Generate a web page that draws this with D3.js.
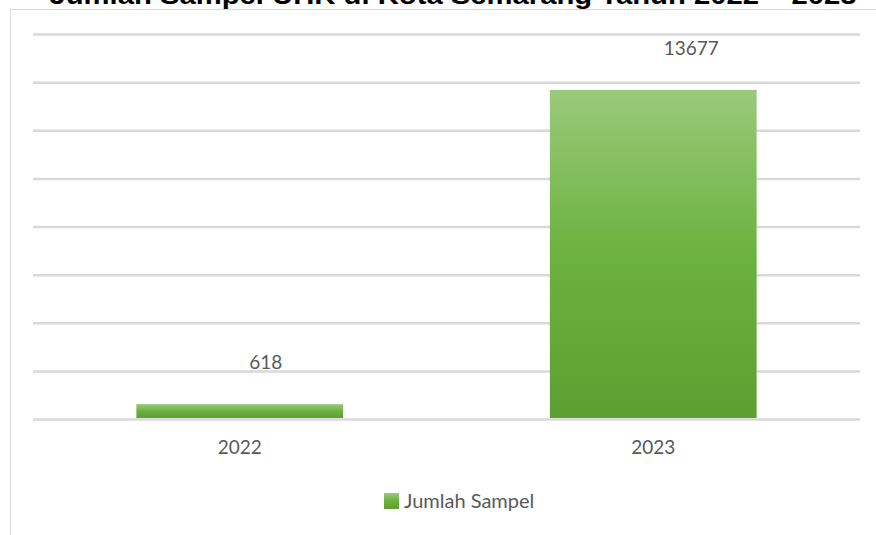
<!DOCTYPE html>
<html><head><meta charset="utf-8">
<script src="https://cdn.jsdelivr.net/npm/d3@7"></script>
<style>html,body{margin:0;padding:0;background:#fff;overflow:hidden}</style>
</head><body>
<svg id="c" width="876" height="535"></svg>
<script>
const title = "Jumlah Sampel UHK di Kota Semarang Tahun 2022 – 2023";
const categories = ["2022", "2023"];
const values = [618, 13677];
const seriesName = "Jumlah Sampel";
const yTicks = [0, 2000, 4000, 6000, 8000, 10000, 12000, 14000, 16000];

const svg = d3.select("#c");
const m = {left: 33, right: 16, top: 34, bottom: 116};
const W = 876, H = 535;

// outer chart box
svg.append("rect").attr("x", 10.5).attr("y", 9.5).attr("width", 900).attr("height", 600)
  .attr("fill", "#fff").attr("stroke", "#d9d9d9").attr("stroke-width", 1);

// title (cut off at top as in reference)
svg.append("text").attr("x", 453).attr("y", 4).attr("text-anchor", "middle")
  .attr("font-family", "Liberation Sans, Arial, sans-serif").attr("font-weight", "bold")
  .attr("font-size", 25).attr("fill", "#000")
  .attr("textLength", 807).attr("lengthAdjust", "spacingAndGlyphs")
  .text(title);

const x = d3.scaleBand().domain(categories).range([m.left, W - m.right]).paddingInner(0.5).paddingOuter(0.25);
const y = d3.scaleLinear().domain([0, 16000]).range([H - m.bottom, m.top]);

const defs = svg.append("defs");
const g = defs.append("linearGradient").attr("id", "gr").attr("x1", 0).attr("y1", 0).attr("x2", 0).attr("y2", 1);
g.append("stop").attr("offset", "0%").attr("stop-color", "#9ac97b");
g.append("stop").attr("offset", "50%").attr("stop-color", "#6cb23e");
g.append("stop").attr("offset", "100%").attr("stop-color", "#5d9f31");

// gridlines via axis
const yAxis = d3.axisLeft(y).tickValues(yTicks).tickSize(-(W - m.right - m.left)).tickFormat("");
const ga = svg.append("g").attr("transform", `translate(${m.left},0)`).call(yAxis);
ga.select(".domain").remove();
ga.selectAll(".tick line").attr("stroke", "#d9d9d9").attr("stroke-width", 2.5);

// bars
svg.selectAll("rect.bar").data(values).join("rect").attr("class", "bar")
  .attr("x", (d, i) => x(categories[i]))
  .attr("width", x.bandwidth())
  .attr("y", d => y(d))
  .attr("height", d => y(0) - y(d) - 1)
  .attr("fill", "url(#gr)");

// data labels (manually offset in the original)
const labelOffset = [26, 38];
svg.selectAll("text.val").data(values).join("text").attr("class", "val")
  .attr("x", (d, i) => x(categories[i]) + x.bandwidth() / 2 + labelOffset[i])
  .attr("y", d => y(d) - 35)
  .attr("text-anchor", "middle")
  .attr("font-family", "Lato, sans-serif").attr("font-size", 19).attr("fill", "#595959")
  .text(d => d);

// x axis labels
const xAxis = d3.axisBottom(x).tickSize(0).tickPadding(22);
const gx = svg.append("g").attr("transform", `translate(0,${y(0)})`).call(xAxis);
gx.select(".domain").remove();
gx.selectAll("text").attr("font-family", "Lato, sans-serif").attr("font-size", 19).attr("fill", "#595959");

// legend
const lg = svg.append("g").attr("transform", "translate(384,493)");
lg.append("rect").attr("width", 15).attr("height", 16).attr("fill", "url(#gr)");
lg.append("text").attr("x", 20).attr("y", 15).attr("font-family", "Lato, sans-serif")
  .attr("font-size", 20).attr("fill", "#595959").text(seriesName);
</script>
</body></html>
